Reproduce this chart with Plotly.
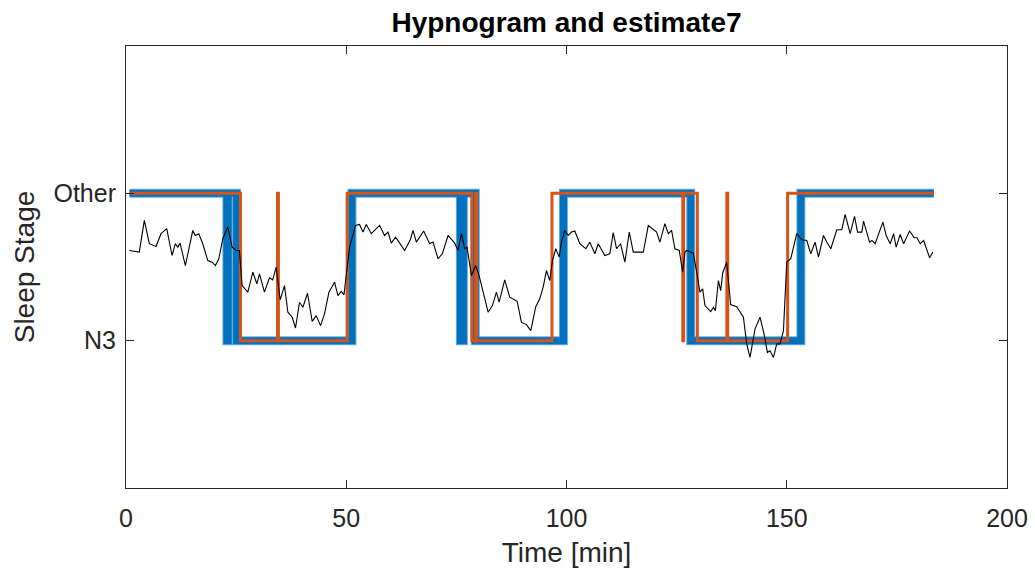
import plotly.graph_objects as go

# Estimated signal (black)
sig_t = [0.75, 3.02, 4.16, 5.30, 6.82, 7.95, 9.25, 10.45, 11.2, 11.75, 12.27, 13.48, 15.16, 15.75, 16.52,
         17.43, 18.57, 19.55, 20.30, 21.07, 21.98, 23.11, 24.09, 25.0, 25.75, 26.36, 27.66, 28.80, 29.7,
         30.30, 31.43, 32.57, 33.3, 34.09, 35.0, 35.98, 36.75, 37.73, 38.48, 39.39, 40.16, 41.2, 42.27,
         43.18, 44.16, 45.07, 46.07, 47.34, 48.11, 48.86, 49.48, 50.75, 52.11, 53.02, 53.80, 54.55, 55.68,
         57.57, 58.7, 59.48, 60.23, 61.2, 61.98, 63.25, 64.55, 65.16, 65.91, 67.57, 68.93, 69.7, 70.84,
         71.82, 73.11, 74.61, 75.39, 76.14, 76.89, 77.43, 78.41, 79.39, 80.16, 81.2, 82.2, 83.18, 84.09,
         84.7, 85.98, 87.11, 88.02, 88.8, 89.77, 90.91, 91.89, 93.02, 93.93, 94.7, 95.45, 96.2, 96.82,
         97.57, 98.34, 98.86, 99.61, 100.39, 101.14, 101.89, 103.02, 104.39, 105.3, 106.43, 107.2, 108.7,
         109.84, 110.61, 111.36, 112.27, 113.25, 114.25, 115.16, 117.43, 118.57, 119.55, 120.45, 121.2,
         122.34, 123.11, 123.86, 124.61, 125.61, 126.36, 126.89, 127.27, 128.8, 129.55, 130.3, 130.91,
         131.43, 132.73, 133.34, 133.8, 134.48, 135.0, 135.45, 136.36, 137.27, 138.64, 140.16, 140.91,
         141.66, 142.8, 143.93, 144.84, 145.61, 146.2, 146.98, 147.73, 148.48, 149.25, 150.0, 150.91,
         151.52, 152.27, 153.41, 154.55, 155.45, 156.43, 157.2, 158.34, 159.09, 160.0, 161.36, 162.5,
         163.25, 164.39, 165.39, 166.07, 167.05, 167.43, 168.8, 169.32, 170.07, 171.82, 172.57, 173.48,
         174.25, 174.84, 175.75, 176.52, 177.89, 178.93, 179.55, 180.3, 181.07, 182.43, 183.18]
sig_v = [0.612, 0.601, 0.816, 0.658, 0.639, 0.726, 0.760, 0.578, 0.658, 0.635, 0.662, 0.510, 0.748, 0.714, 0.726,
         0.658, 0.544, 0.533, 0.510, 0.556, 0.692, 0.771, 0.635, 0.612, 0.612, 0.374, 0.329, 0.465, 0.386,
         0.454, 0.329, 0.427, 0.413, 0.499, 0.277, 0.374, 0.193, 0.159, 0.086, 0.261, 0.227, 0.322, 0.131,
         0.170, 0.102, 0.182, 0.329, 0.397, 0.306, 0.335, 0.311, 0.635, 0.782, 0.789, 0.737, 0.789, 0.726,
         0.782, 0.714, 0.737, 0.662, 0.703, 0.669, 0.612, 0.685, 0.748, 0.669, 0.744, 0.658, 0.669, 0.556,
         0.590, 0.714, 0.662, 0.612, 0.726, 0.624, 0.635, 0.442, 0.510, 0.442, 0.306, 0.193, 0.238, 0.329,
         0.261, 0.413, 0.295, 0.277, 0.267, 0.124, 0.109, 0.068, 0.231, 0.284, 0.363, 0.476, 0.408, 0.544,
         0.624, 0.567, 0.669, 0.748, 0.714, 0.737, 0.744, 0.658, 0.624, 0.669, 0.590, 0.658, 0.578,
         0.590, 0.733, 0.624, 0.658, 0.533, 0.737, 0.601, 0.601, 0.782, 0.760, 0.737, 0.669,
         0.794, 0.726, 0.748, 0.624, 0.612, 0.465, 0.601, 0.612, 0.594, 0.465, 0.329, 0.352,
         0.238, 0.197, 0.227, 0.204, 0.408, 0.340, 0.458, 0.533, 0.245, 0.231, 0.159, -0.022,
         -0.114, 0.080, 0.159, 0.046, -0.080, -0.068, -0.114, -0.022, -0.022, 0.068, 0.533, 0.556,
         0.624, 0.726, 0.685, 0.680, 0.590, 0.669, 0.567, 0.714, 0.669, 0.624, 0.753, 0.753,
         0.857, 0.726, 0.844, 0.737, 0.737, 0.812, 0.669, 0.680, 0.658, 0.805, 0.714, 0.658,
         0.726, 0.635, 0.721, 0.658, 0.744, 0.699, 0.699, 0.658, 0.680, 0.563, 0.601]

# Hypnogram (blue): 1 = Other, 0 = N3
hyp_t = [0.8, 22.9, 23.2, 25.1, 51.3, 75.9, 76.6, 79.3, 99.3, 128.2, 153.2, 183.4]
hyp_v = [1, 0, 1, 0, 1, 0, 1, 0, 1, 0, 1, 1]

# Estimate (orange)
est_t = [0.8, 26.0, 34.4, 34.6, 50.2, 78.5, 79.4, 79.6, 96.7, 126.4, 126.6, 129.7, 136.4, 136.6, 150.2, 183.4]
est_v = [1, 0, 1, 0, 1, 0, 1, 0, 1, 0, 1, 0, 1, 0, 1, 1]

y_tickvals = [0, 1]
y_ticktext = ["N3", "Other"]
x_tickvals = [0, 50, 100, 150, 200]

fig = go.Figure()
fig.add_trace(go.Scatter(x=hyp_t, y=hyp_v, mode="lines", line=dict(color="#6aaedc", width=9, shape="hv"),
                         showlegend=False, hoverinfo="skip"))
fig.add_trace(go.Scatter(x=hyp_t, y=hyp_v, mode="lines", line=dict(color="#0072BD", width=7, shape="hv"),
                         showlegend=False))
fig.add_trace(go.Scatter(x=est_t, y=est_v, mode="lines", line=dict(color="#D95319", width=3, shape="hv"),
                         showlegend=False))
fig.add_trace(go.Scatter(x=sig_t, y=sig_v, mode="lines", line=dict(color="black", width=1.1),
                         showlegend=False))

font_fam = "Liberation Sans, Arial, sans-serif"
axis_common = dict(showgrid=False, zeroline=False, showline=True, linecolor="#262626", linewidth=1,
                   mirror="ticks", ticks="inside", ticklen=8, tickcolor="#262626", automargin=False,
                   tickfont=dict(family=font_fam, size=25, color="#262626"))

fig.update_layout(
    width=1035, height=569,
    margin=dict(l=126, r=28, t=46, b=81),
    plot_bgcolor="white", paper_bgcolor="white",
    title=dict(text="<b>Hypnogram and estimate7</b>", x=0.5, xref="paper", xanchor="center",
               y=1 - 22 / 569, yref="container", yanchor="middle",
               font=dict(family=font_fam, size=28, color="black")),
    xaxis=dict(range=[0, 200], tickvals=x_tickvals, ticklabelstandoff=8, **axis_common,
               title=dict(text="Time [min]", font=dict(family=font_fam, size=28, color="#262626"), standoff=11)),
    yaxis=dict(range=[-1, 2], tickvals=y_tickvals, ticktext=y_ticktext, ticklabelstandoff=4, **axis_common,
               title=dict(text="Sleep Stage", font=dict(family=font_fam, size=28, color="#262626"), standoff=10)),
)

fig.write_html("out.html")
